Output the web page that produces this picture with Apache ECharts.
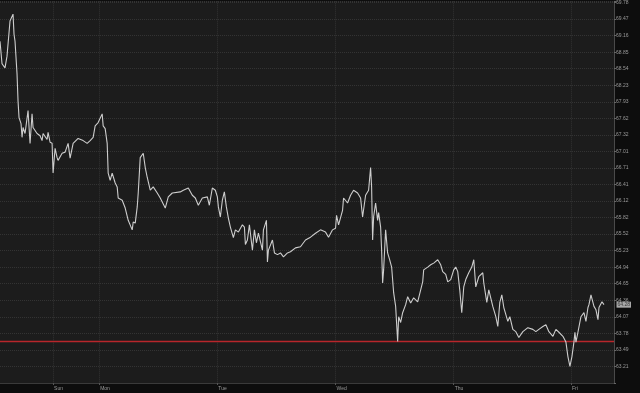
<!DOCTYPE html>
<html>
<head>
<meta charset="utf-8">
<script src="https://cdn.jsdelivr.net/npm/echarts@6/dist/echarts.min.js"></script>
<style>html,body{margin:0;padding:0;background:#0d0d0d;}#c{width:640px;height:393px;}</style>
</head>
<body>
<div id="c"></div>
<script>
// Price axis tick labels (log-spaced), bottom to top
const yTickLabels = ['63.21','63.49','63.78','64.07','64.36','64.65','64.94','65.23','65.52','65.82','66.12','66.41','66.71','67.01','67.32','67.62','67.93','68.23','68.54','68.85','69.16','69.47','69.78'];
// Session starts (bar index) and their labels
const dayBars = [53, 99, 217, 335, 453, 570];
const dayNames = ['Sun', 'Mon', 'Tue', 'Wed', 'Thu', 'Fri'];
const barCount = 614;
// Price path: bar index and price
const barIdx = [0,2,5,7,10,13,14,15,17,18,19,21,22,23,25,28,30,32,33,37,40,42,43,47,48,50,52,53,55,57,58,62,65,68,70,73,78,83,87,90,93,95,98,102,103,105,107,108,110,112,115,117,118,122,125,128,132,133,135,137,138,140,143,145,147,
150,153,157,160,165,168,172,180,183,188,192,195,198,202,207,209,212,215,217,218,220,222,224,226,228,230,233,235,238,242,244,245,247,249,252,254,256,258,262,263,266,267,268,272,274,277,280,283,287,290,295,300,305,310,315,320,
325,328,332,335,336,338,342,343,347,350,353,357,360,362,365,368,370,371,372,373,375,377,378,380,381,382,383,385,387,389,391,393,395,397,398,400,402,405,407,410,413,417,420,422,423,427,430,433,437,440,442,445,447,
450,453,455,457,459,461,463,465,468,471,473,475,478,482,483,486,488,492,495,497,499,501,503,507,509,512,515,518,522,527,532,535,538,542,545,548,552,555,558,562,565,567,569,571,573,574,575,577,580,583,585,587,588,590,593,595,597,598,601,603];
const prices = [69.05,68.63,68.55,68.77,69.43,69.56,69.18,69.05,68.44,67.94,67.63,67.52,67.27,67.45,67.34,67.76,67.16,67.70,67.45,67.34,67.30,67.21,67.34,67.23,67.36,67.18,67.16,66.62,67.07,66.90,66.85,66.98,67.00,67.16,66.89,67.16,67.25,67.21,67.16,67.21,67.27,67.48,67.54,67.70,67.48,67.43,67.16,66.62,66.49,66.62,66.44,66.37,66.17,66.13,65.99,65.77,65.60,65.74,65.72,66.01,66.26,66.90,66.98,66.72,66.54,
66.31,66.37,66.26,66.17,65.99,66.19,66.26,66.28,66.31,66.35,66.22,66.17,66.04,66.17,66.19,66.04,66.35,66.31,66.19,66.01,65.83,66.13,66.28,66.01,65.81,65.65,65.46,65.60,65.56,65.69,65.65,65.34,65.42,65.69,65.24,65.60,65.37,65.54,65.24,65.60,65.77,65.03,65.24,65.42,65.19,65.16,65.19,65.12,65.19,65.21,65.28,65.30,65.42,65.47,65.54,65.60,
65.56,65.47,65.60,65.63,65.86,65.69,65.95,66.17,66.08,66.22,66.31,66.26,66.17,65.83,66.22,66.31,66.72,66.37,65.42,65.83,66.08,65.77,65.91,65.65,65.24,64.66,64.89,65.60,65.19,65.07,64.94,64.49,64.25,63.64,64.07,63.97,64.14,64.28,64.42,64.31,64.40,64.33,64.54,64.68,64.89,64.94,64.98,65.01,65.07,64.98,64.86,64.81,64.68,
64.72,64.89,64.94,64.86,64.54,64.14,64.59,64.72,64.84,64.94,65.07,64.59,64.77,64.84,64.66,64.32,64.54,64.25,64.07,63.90,64.32,64.45,64.23,63.99,64.07,63.85,63.81,63.71,63.81,63.88,63.85,63.81,63.85,63.90,63.93,63.81,63.73,63.85,63.80,63.73,63.63,63.38,63.21,63.38,63.63,63.80,63.63,63.80,64.07,64.14,63.99,64.23,64.28,64.45,64.25,64.19,64.02,64.23,64.33,64.28];
const refLevel = 63.64;
const lastPrice = 64.28;

// log transform: one tick step per label
const base = 63.21;
const lnStep = Math.log(69.78 / 63.21) / 22;
const toStep = p => Math.log(p / base) / lnStep;

const categories = [];
for (let i = 0; i < barCount; i++) {
  const k = dayBars.indexOf(i);
  categories.push(k >= 0 ? dayNames[k] : '');
}
const isDay = (idx) => dayBars.indexOf(idx) >= 0;
const seriesData = barIdx.map((b, i) => [b, toStep(prices[i])]);
const refData = [[0, toStep(refLevel)], [barCount - 1, toStep(refLevel)]];
const lastData = [[barCount - 1, toStep(lastPrice)]];

const chart = echarts.init(document.getElementById('c'));
const font = 'Liberation Sans, Arial, sans-serif';
chart.setOption({
  backgroundColor: '#0d0d0d',
  animation: false,
  color: ['#b8262b', '#cdcdcd', '#cfcfcf'],
  grid: { left: 0, right: 26, top: 0, bottom: 10, show: true, backgroundColor: '#1c1c1c', borderWidth: 0 },
  xAxis: {
    type: 'category',
    data: categories,
    boundaryGap: false,
    axisLine: { show: true, onZero: false, lineStyle: { color: '#3a3a3a', width: 1 } },
    axisTick: { show: true, interval: isDay, length: 2, lineStyle: { color: '#555' } },
    axisLabel: { interval: isDay, color: '#9a9a9a', fontSize: 5, fontFamily: font, align: 'left', margin: 3, padding: [0,0,0,1] },
    splitLine: { show: true, interval: isDay, lineStyle: { color: '#333', type: 'dotted', width: 1 } }
  },
  yAxis: {
    type: 'value',
    position: 'right',
    min: -1,
    max: 22 + 1.2 / 16.6,
    interval: 1,
    axisLine: { show: true, lineStyle: { color: '#4a4a4a', width: 1 } },
    axisTick: { show: true, length: 2, lineStyle: { color: '#666' } },
    axisLabel: {
      color: '#9a9a9a', fontSize: 5, fontFamily: font, margin: 2,
      formatter: v => {
        const k = Math.round(v);
        if (Math.abs(v - k) > 1e-6 || k < 0 || k >= yTickLabels.length) return '';
        return yTickLabels[k];
      }
    },
    splitLine: { show: true, lineStyle: { color: '#333', type: 'dotted', width: 1 } }
  },
  series: [{
    name: 'ref',
    type: 'line',
    data: refData,
    showSymbol: false,
    silent: true,
    z: 1,
    itemStyle: { color: '#b8262b' },
    lineStyle: { color: '#b8262b', width: 1.3, opacity: 1 }
  }, {
    name: 'price',
    type: 'line',
    data: seriesData,
    showSymbol: false,
    z: 2,
    itemStyle: { color: '#cdcdcd' },
    lineStyle: { color: '#cdcdcd', width: 1.1 }
  }, {
    name: 'last',
    type: 'scatter',
    data: lastData,
    clip: false,
    silent: true,
    z: 5,
    symbolSize: 1,
    itemStyle: { color: 'rgba(0,0,0,0)' },
    label: { show: true, position: 'right', distance: 2, formatter: lastPrice.toFixed(2), color: '#1c1c1c',
             backgroundColor: '#cfcfcf', fontSize: 5, fontFamily: font, padding: [1, 1, 0, 1] }
  }]
});
</script>
</body>
</html>
